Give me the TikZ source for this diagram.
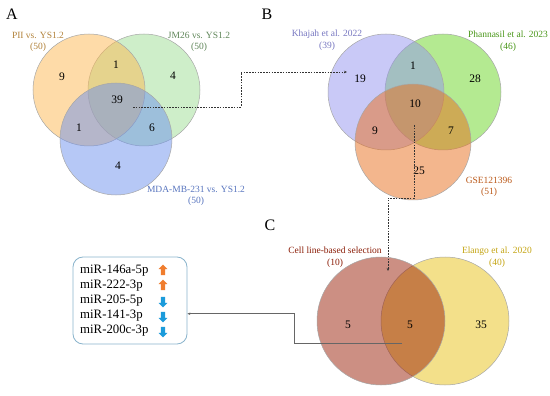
\documentclass[tikz,border=0pt]{standalone}
\usepackage{fontspec}
\setmainfont{Liberation Serif}
\usetikzlibrary{arrows.meta,positioning,shapes.arrows}
\definecolor{aorange}{HTML}{FDB851}
\definecolor{agreen}{HTML}{9DDD93}
\definecolor{ablue}{HTML}{6D91ED}
\definecolor{bpurple}{HTML}{9494F0}
\definecolor{bgreen}{HTML}{69D624}
\definecolor{borange}{HTML}{E86D1C}
\definecolor{cbrown}{HTML}{991F07}
\definecolor{cyellow}{HTML}{E7C115}
\definecolor{uporange}{HTML}{F07D2E}
\definecolor{downblue}{HTML}{1B9BDB}
\definecolor{boxline}{HTML}{8AB4CC}

\begin{document}
\begin{tikzpicture}[x=1pt,y=-1pt,
  venn/.style={circle,draw=gray!70,line width=0.5pt,fill opacity=0.5,
               draw opacity=1,inner sep=0pt},
  cnt/.style={font=\fontsize{11.5}{13}\selectfont},
  lbl/.style={align=center,font=\fontsize{9.5}{11.5}\selectfont,inner sep=0pt},
  panel/.style={font=\fontsize{16}{18}\selectfont},
  mir/.style={anchor=west,font=\fontsize{12.8}{14}\selectfont,inner sep=0pt},
  updown/.style={single arrow,draw=none,minimum height=10.5pt,minimum width=8.5pt,
                 single arrow head extend=2.2pt,inner sep=2pt},
  up/.style={updown,fill=uporange,shape border rotate=90},
  down/.style={updown,fill=downblue,shape border rotate=270},
  link/.style={dash pattern=on 1.6pt off 1.2pt,line width=0.6pt,draw=black!80,
               -{Stealth[length=3pt,width=2.5pt]}},
  solidlink/.style={line width=0.6pt,draw=gray!80!black,-{Stealth[length=3pt,width=2.5pt]}}]
\useasboundingbox (0,0) rectangle (550,396);
% panel A
\node[panel] (pA) at (12,14) {A};
\node[venn,fill=agreen,minimum size=112pt] (jm) at (144,90) {};
\node[venn,fill=aorange,minimum size=112pt] (pii) at (89,90) {};
\node[venn,fill=ablue,minimum size=112pt] (mda) at (116,139) {};
\node[lbl,text=aorange!70!black] (lpii) at (38,42) {PII vs. YS1.2\\(50)};
\node[lbl,text=agreen!60!black] (ljm) at (199,42) {JM26 vs. YS1.2\\(50)};
\node[lbl,text=ablue!80!black] (lmda) at (196,196) {MDA-MB-231 vs. YS1.2\\(50)};
\node[cnt] (a9) at (62,77) {9};
\node[cnt] (a1t) at (116,65) {1};
\node[cnt] (a4r) at (173,76) {4};
\node[cnt] (a39) at (117,100) {39};
\node[cnt] (a1l) at (79,128) {1};
\node[cnt] (a6) at (152,128) {6};
\node[cnt] (a4b) at (118,166) {4};
% panel B
\node[panel] (pB) at (267,14) {B};
\node[venn,fill=bgreen,minimum size=116pt] (pha) at (443,92) {};
\node[venn,fill=bpurple,minimum size=116pt] (kha) at (386,92) {};
\node[venn,fill=borange,minimum size=116pt] (gse) at (413,142) {};
\node[lbl,text=bpurple!80!black] (lkha) at (327,40) {Khajah et al. 2022\\(39)};
\node[lbl,text=bgreen!70!black] (lpha) at (508,41) {Phannasil et al. 2023\\(46)};
\node[lbl,text=borange!80!black] (lgse) at (489,187) {GSE121396\\(51)};
\node[cnt] (b19) at (360,79) {19};
\node[cnt] (b1) at (413,66) {1};
\node[cnt] (b28) at (475,79) {28};
\node[cnt] (b10) at (415,104) {10};
\node[cnt] (b9) at (375,131) {9};
\node[cnt] (b7) at (451,131) {7};
\node[cnt] (b25) at (419,171) {25};
% panel C
\node[panel] (pC) at (270,225) {C};
\node[venn,fill=cyellow,minimum size=128pt] (ela) at (445,321) {};
\node[venn,fill=cbrown,minimum size=128pt] (cell) at (381,321) {};
\node[lbl,text=cbrown!90!black] (lcell) at (335,257) {Cell line-based selection\\(10)};
\node[lbl,text=cyellow!85!black] (lela) at (497,257) {Elango et al. 2020\\(40)};
\node[cnt] (c5l) at (348,325) {5};
\node[cnt] (c5m) at (410,325) {5};
\node[cnt] (c35) at (481,325) {35};
% result box
\node[draw=boxline,line width=0.8pt,rounded corners=10pt,fill=white,
      minimum width=114pt,minimum height=87pt] (box) at (130,300.5) {};
\node[mir] (m1) at (80,271) {miR-146a-5p};
\node[mir] (m2) at (80,286) {miR-222-3p};
\node[mir] (m3) at (80,301) {miR-205-5p};
\node[mir] (m4) at (80,316) {miR-141-3p};
\node[mir] (m5) at (80,331) {miR-200c-3p};
\node[up] (u1) at (163,271) {};
\node[up] (u2) at (163,286) {};
\node[down] (d3) at (163,301) {};
\node[down] (d4) at (163,316) {};
\node[down] (d5) at (163,331) {};
% connectors
\coordinate (aout) at (133,107);
\coordinate (bin) at (347,72);
\coordinate (bout) at (414,125);
\coordinate (cin) at (388,271);
\coordinate (cout) at (402,343);
\draw[link] (aout) -- ++(108,0) |- (bin);
\draw[link] (bout) -- ++(0,73) -| (cin);
\draw[solidlink] (cout) -- ++(-108,0) |- (box.-13);
\end{tikzpicture}
\end{document}
